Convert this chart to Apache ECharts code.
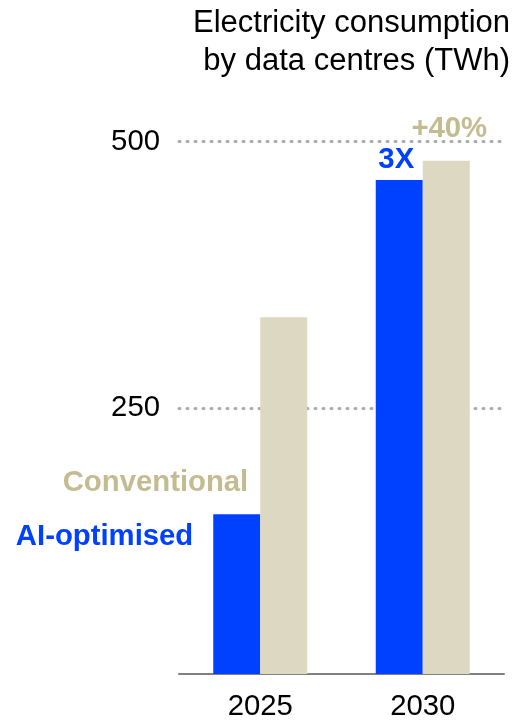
<!DOCTYPE html>
<html>
<head>
<meta charset="utf-8">
<script src="https://cdn.jsdelivr.net/npm/echarts@6/dist/echarts.min.js"></script>
<style>
  html, body { margin: 0; padding: 0; background: #fff; }
  #chart { width: 524px; height: 721px; }
</style>
</head>
<body>
<div id="chart"></div>
<script>
// data
const years = ['2025', '2030'];
const aiOptimised = [150, 464];
const conventional = [335, 482];
const yMax = 500;
const yStep = 250;
const aiNotes = ['AI-optimised', '3X'];
const convNotes = ['Conventional', '+40%'];

const BLUE = '#0040ff';
const TAN_BAR = '#ddd8c2';
const TAN_TEXT = '#c4bb90';
const FONT = 'Liberation Sans, Arial, sans-serif';
const SIZE = 29.3;

let myChart = echarts.init(document.getElementById('chart'));

// labels next to the bars (first year: series name on the left, second year: growth on top)
const aiData = aiOptimised.map((v, i) => ({
    value: v,
    label: i === 0
        ? { show: true, formatter: aiNotes[i], position: [-20, 23], align: 'right', verticalAlign: 'middle' }
        : { show: true, formatter: aiNotes[i], position: 'top', distance: 6, offset: [-3, 0] }
}));
const convData = conventional.map((v, i) => ({
    value: v,
    label: i === 0
        ? { show: true, formatter: convNotes[i], position: [-12, 166], align: 'right', verticalAlign: 'middle' }
        : { show: true, formatter: convNotes[i], position: 'top', distance: 17, offset: [3, 0] }
}));

let option = {
    animation: false,
    backgroundColor: '#fff',
    title: {
        text: 'Electricity consumption\nby data centres (TWh)',
        left: 510,
        top: 5,
        padding: 0,
        textAlign: 'right',
        textStyle: {
            fontFamily: FONT,
            fontSize: 31,
            lineHeight: 37.5,
            fontWeight: 'normal',
            color: '#000'
        }
    },
    grid: {
        left: 179,
        right: 20,
        top: 141.7,
        bottom: 46.1
    },
    xAxis: {
        type: 'category',
        data: years,
        axisTick: { show: false },
        axisLine: {
            show: true,
            lineStyle: { color: '#808080', width: 2 }
        },
        axisLabel: {
            margin: 18,
            fontFamily: FONT,
            fontSize: SIZE,
            color: '#000'
        }
    },
    yAxis: {
        type: 'value',
        min: 0,
        max: yMax,
        interval: yStep,
        axisLine: { show: false },
        axisTick: { show: false },
        axisLabel: {
            showMinLabel: false,
            margin: 19,
            fontFamily: FONT,
            fontSize: SIZE,
            color: '#000'
        },
        splitLine: {
            show: true,
            showMinLine: false,
            lineStyle: {
                color: '#aaaaaa',
                width: 3,
                type: [1, 7],
                cap: 'round'
            }
        }
    },
    series: [
        {
            name: 'AI-optimised',
            type: 'bar',
            data: aiData,
            barWidth: 47,
            barGap: '0%',
            itemStyle: { color: BLUE },
            label: {
                fontFamily: FONT,
                fontSize: SIZE,
                fontWeight: 'bold',
                color: BLUE
            }
        },
        {
            name: 'Conventional',
            type: 'bar',
            data: convData,
            barWidth: 47,
            barGap: '0%',
            itemStyle: { color: TAN_BAR },
            label: {
                fontFamily: FONT,
                fontSize: SIZE,
                fontWeight: 'bold',
                color: TAN_TEXT
            }
        }
    ]
};

myChart.setOption(option, true);
</script>
</body>
</html>
